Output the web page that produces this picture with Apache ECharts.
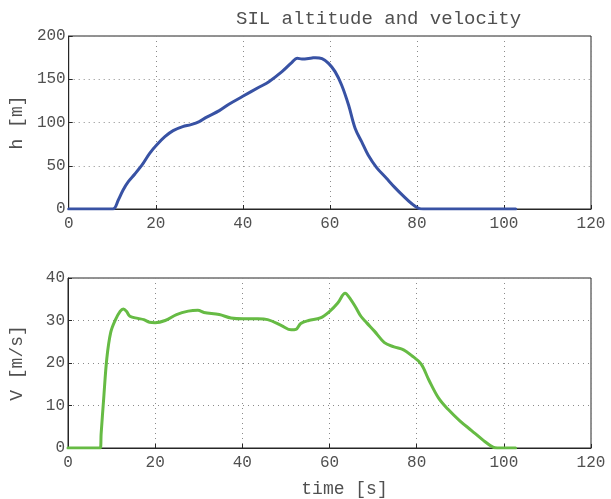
<!DOCTYPE html>
<html>
<head>
<meta charset="utf-8">
<script src="https://cdn.jsdelivr.net/npm/echarts@6/dist/echarts.min.js"></script>
<style>
html,body{margin:0;padding:0;background:#fff;}
#chart{width:611px;height:499px;}
</style>
</head>
<body>
<div id="chart"></div>
<script>
const titleText = 'SIL altitude and velocity';
const xTicks = [0, 20, 40, 60, 80, 100, 120];
const hTicks = [0, 50, 100, 150, 200];
const vTicks = [0, 10, 20, 30, 40];

const timeH = [0, 10.1, 11.4, 12.5, 13.7, 15.2, 17.1, 18.6, 20.2, 22.1, 24, 26.2, 28.1, 30, 31.6, 34.6, 36.9, 39.9, 43.7, 46, 49, 51.3, 52.5, 53.6, 55.9, 56.7, 58.2, 59.7, 61.2, 62.7, 64.3, 65.8, 67.3, 68.8, 70.7, 73, 74.9, 76.8, 78.7, 80.6, 81.5, 102.7];
const altitude = [0, 0, 10.4, 22, 31.6, 40.5, 52.8, 64.4, 74, 83.6, 90.6, 95.2, 97.5, 101, 106, 113.7, 121.4, 130, 140.7, 147.2, 158.8, 169.6, 174.2, 173.4, 174.6, 175, 173.8, 168.4, 158.8, 143.4, 120.2, 93.3, 77.8, 62.4, 48.2, 35.5, 25, 15.4, 6.6, 0.4, 0, 0];

const timeV = [0, 7.4, 7.6, 8.2, 8.9, 9.8, 10.9, 12, 12.7, 13.4, 14.2, 16, 17.4, 18.7, 20, 22.3, 24.9, 27.6, 29.8, 31.2, 34.7, 37.4, 40.1, 43.6, 45.8, 49, 51.2, 52.3, 53.4, 55.2, 57.9, 60.1, 61.9, 63.6, 64.4, 65.9, 67.2, 68.5, 70.3, 72.6, 74.8, 77, 78.8, 81, 82.8, 85, 87.2, 89.9, 92.6, 95.3, 97.5, 98.5, 102.7];
const velocity = [0, 0, 3.3, 11.8, 21, 27.2, 30.2, 32.2, 32.7, 32.2, 31, 30.5, 30.2, 29.6, 29.5, 30, 31.4, 32.2, 32.4, 31.9, 31.4, 30.6, 30.4, 30.4, 30.2, 28.8, 27.8, 27.9, 29.3, 30, 30.6, 32.2, 34.1, 36.4, 35.6, 33.3, 31, 29.5, 27.5, 24.8, 23.8, 23.1, 21.8, 19.8, 16, 11.8, 9.1, 6.4, 4.1, 1.8, 0.2, 0, 0];

const FONT = "'Courier New', 'Liberation Mono', monospace";
const TXT = '#505050';

function pairs(xs, ys){ return xs.map((x,i)=>[x, ys[i]]); }

function xAxisCfg(idx, withName){
  const c = {
    type:'value', gridIndex: idx, min: xTicks[0], max: xTicks[xTicks.length-1], interval: 20,
    axisLine:{show:true, onZero:false, lineStyle:{color:'#262626', width:1}},
    axisTick:{show:true, inside:true, length:4, lineStyle:{color:'#262626'}},
    axisLabel:{color:TXT, fontFamily:FONT, fontSize:16, margin:7},
    splitLine:{show:true, lineStyle:{color:'#8a8a8a', type:[1,4], width:1}}
  };
  if (withName){
    c.name = 'time [s]';
    c.nameLocation = 'middle';
    c.nameGap = 32;
    c.nameTextStyle = {color:TXT, fontFamily:FONT, fontSize:18, padding:[0,0,0,30]};
  }
  return c;
}
function yAxisCfg(idx, ticks, name){
  return {
    type:'value', gridIndex: idx, min: ticks[0], max: ticks[ticks.length-1], interval: ticks[1]-ticks[0],
    name: name, nameLocation:'middle', nameGap: 42,
    nameTextStyle:{color:TXT, fontFamily:FONT, fontSize:18},
    axisLine:{show:true, lineStyle:{color:'#262626', width:1}},
    axisTick:{show:true, inside:true, length:4, lineStyle:{color:'#262626'}},
    axisLabel:{color:TXT, fontFamily:FONT, fontSize:16, margin:3},
    splitLine:{show:true, lineStyle:{color:'#8a8a8a', type:[1,4], width:1}}
  };
}

const chart = echarts.init(document.getElementById('chart'), null, {renderer:'canvas'});
chart.setOption({
  animation:false,
  backgroundColor:'#ffffff',
  title:{text:titleText, left:231, top:4, textStyle:{color:TXT, fontFamily:FONT, fontSize:19, fontWeight:'normal'}},
  grid:[
    {left:65, right:20, top:36, height:173, show:true, borderColor:'#262626', borderWidth:1, backgroundColor:'transparent'},
    {left:65, right:20, top:278, height:173, show:true, borderColor:'#262626', borderWidth:1, backgroundColor:'transparent'}
  ],
  xAxis:[xAxisCfg(0,false), xAxisCfg(1,true)],
  yAxis:[yAxisCfg(0,hTicks,'h [m]'), yAxisCfg(1,vTicks,'V [m/s]')],
  series:[
    {type:'line', xAxisIndex:0, yAxisIndex:0, data:pairs(timeH, altitude), showSymbol:false, smooth:0.35,
     lineStyle:{color:'#3852a4', width:3, join:'round', cap:'round'}, itemStyle:{color:'#3852a4'}},
    {type:'line', xAxisIndex:1, yAxisIndex:1, data:pairs(timeV, velocity), showSymbol:false, smooth:0.35,
     lineStyle:{color:'#66bb44', width:3, join:'round', cap:'round'}, itemStyle:{color:'#66bb44'}}
  ]
});
</script>
</body>
</html>
